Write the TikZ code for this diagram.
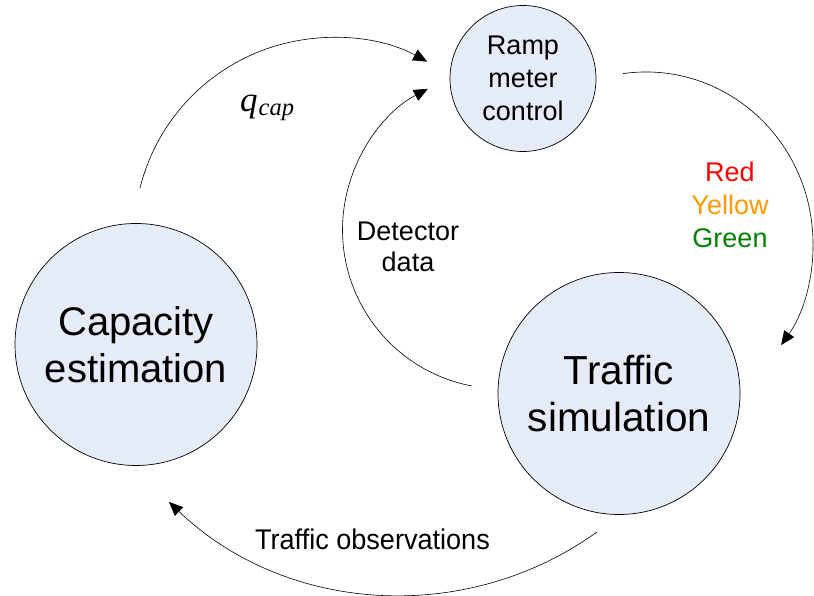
\documentclass[tikz,border=0pt]{standalone}
\usepackage{fontspec}
\usepackage{graphicx}
\setmainfont[Ligatures=NoCommon]{Liberation Sans}
\newfontfamily\qfont{Liberation Serif}
\usetikzlibrary{arrows.meta}
\definecolor{circfill}{RGB}{230,236,247}
\definecolor{ryellow}{RGB}{255,153,0}
\definecolor{rgreen}{RGB}{0,128,0}
\definecolor{rred}{RGB}{255,0,0}
\tikzset{
  proc/.style={circle, draw=black, line width=0.7pt, fill=circfill, align=center, inner sep=0pt},
  flow/.style={line width=0.6pt, -{Triangle[length=14pt,width=12pt]}},
  lbl/.style={inner sep=0pt, align=center}
}
\begin{document}
\begin{tikzpicture}[x=1pt,y=1pt]
\useasboundingbox (0,0) rectangle (814,596);
% process circles
\node[proc, minimum size=242pt, font=\fontsize{40}{47}\selectfont] (cap) at (136,251.5) {Capacity\\estimation};
\node[proc, minimum size=242pt, font=\fontsize{40.5}{47}\selectfont] (sim) at (619,202.5) {Traffic\\simulation};
\node[proc, minimum size=146pt, font=\fontsize{27}{33}\selectfont] (ramp) at (523,517.5) {Ramp\\meter\\control};
% connector end points
\coordinate (q1) at (140,408);
\coordinate (d1) at (472,210);
\coordinate (r1) at (622.76,522.33);
\coordinate (t1) at (597,64);
% connectors
\draw[flow] (q1) arc[start angle=166, end angle=61.5, radius=198.4];
\draw[flow] (d1) arc[start angle=259.3, end angle=117.6, radius=159];
\draw[flow] (r1) arc[start angle=98, end angle=-36, x radius=167, y radius=172];
\draw[flow] (t1) arc[start angle=-54.35, end angle=-133.7, radius=336.1];
% labels
\node[lbl, anchor=base west] (qcap) at (240,484) {\fontsize{35}{38}\qfont\itshape q\kern1pt\raisebox{-4pt}{\fontsize{24.5}{28}\selectfont cap}};
\node[lbl, font=\fontsize{27}{31}\selectfont] (det) at (408,349.4) {Detector\\data};
\node[lbl, font=\fontsize{27}{33}\selectfont] (ryg) at (730,391) {\textcolor{rred}{Red}\\\textcolor{ryellow}{Yellow}\\\textcolor{rgreen}{Green}};
\node[lbl, anchor=base] (obs) at (372.5,46.7) {\scalebox{0.95}[1]{\fontsize{28.5}{32}\selectfont Traffic observations}};
\end{tikzpicture}
\end{document}
